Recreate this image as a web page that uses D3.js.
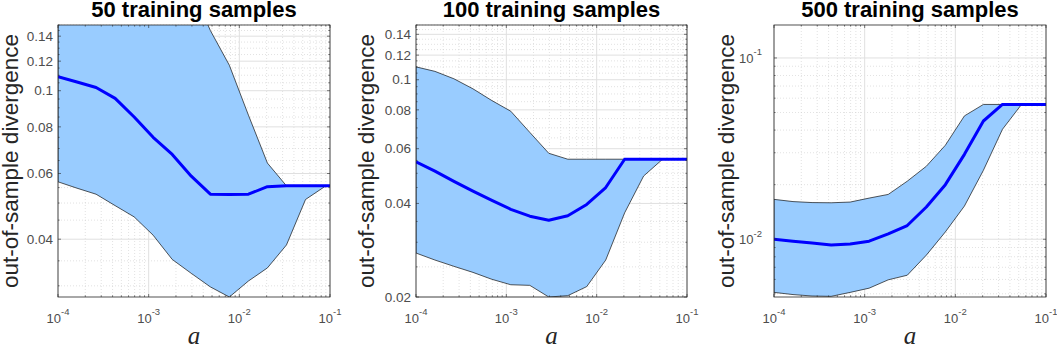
<!DOCTYPE html>
<html><head><meta charset="utf-8">
<script src="https://cdn.jsdelivr.net/npm/d3@7"></script>
<style>body{margin:0;background:#fff}svg{display:block}</style>
</head><body>
<svg id="chart" width="1057" height="349"></svg>
<script>
// ---- data ----
const aGrid = [1e-4, 1.62e-4, 2.63e-4, 4.27e-4, 6.92e-4, 1.12e-3, 1.82e-3, 2.95e-3, 4.79e-3, 7.76e-3, 1.26e-2, 2.04e-2, 3.31e-2, 5.37e-2, 8.71e-2, 1.41e-1];

const titles = ["50 training samples", "100 training samples", "500 training samples"];

const median50 = [0.109, 0.1055, 0.102, 0.0954, 0.085, 0.075, 0.0675, 0.059, 0.0528, 0.0527, 0.0528, 0.0553, 0.0556, 0.0556, 0.0556, 0.0556];
const upper50  = [0.32, 0.31, 0.30, 0.29, 0.27, 0.25, 0.22, 0.19, 0.145, 0.117, 0.086, 0.064, 0.0556, 0.0556, 0.0556, 0.0556];
const lower50  = [0.0570, 0.0548, 0.0528, 0.0492, 0.0459, 0.0410, 0.0353, 0.0324, 0.0298, 0.0280, 0.0309, 0.0335, 0.0386, 0.0511, 0.0553, 0.0557];

const median100 = [0.0544, 0.0508, 0.0471, 0.0438, 0.0409, 0.0383, 0.0364, 0.0353, 0.0365, 0.0397, 0.0450, 0.0555, 0.0555, 0.0555, 0.0555, 0.0555];
const upper100  = [0.110, 0.1064, 0.1007, 0.0935, 0.0857, 0.0792, 0.0677, 0.058, 0.0555, 0.0555, 0.0555, 0.0555, 0.0555, 0.0555, 0.0555, 0.0555];
const lower100  = [0.0277, 0.0263, 0.0251, 0.0240, 0.0228, 0.0219, 0.0218, 0.0200, 0.0202, 0.0216, 0.0263, 0.0373, 0.0490, 0.0555, 0.0555, 0.0555];

const median500 = [0.0100, 0.00976, 0.00953, 0.00930, 0.00942, 0.00975, 0.01069, 0.0119, 0.01505, 0.0200, 0.0294, 0.0449, 0.0554, 0.0554, 0.0554, 0.0554];
const upper500  = [0.01659, 0.01613, 0.01593, 0.01589, 0.01603, 0.01686, 0.01767, 0.0209, 0.02527, 0.0330, 0.0479, 0.0554, 0.0554, 0.0554, 0.0554, 0.0554];
const lower500  = [0.00509, 0.00495, 0.00486, 0.00484, 0.00509, 0.00537, 0.00597, 0.00633, 0.00817, 0.01097, 0.01524, 0.0240, 0.0404, 0.0554, 0.0554, 0.0554];

const xTicks = [1e-4, 1e-3, 1e-2, 1e-1];
const xTickExp = ["-4", "-3", "-2", "-1"];

const yTicks50 = [0.04, 0.06, 0.08, 0.1, 0.12, 0.14];
const yLabels50 = ["0.04", "0.06", "0.08", "0.1", "0.12", "0.14"];
const yTicks100 = [0.02, 0.04, 0.06, 0.08, 0.1, 0.12, 0.14];
const yLabels100 = ["0.02", "0.04", "0.06", "0.08", "0.1", "0.12", "0.14"];
const yTicks500 = [0.01, 0.1];
const yExp500 = ["-2", "-1"];

const yDomains = [[0.028, 0.15], [0.02, 0.15], [0.0048, 0.152]];

// ---- layout ----
const svg = d3.select("#chart");
const yTop = 25, yBot = 297;
const panels = [
  {x0: 58, x1: 330, med: median50, up: upper50, lo: lower50, yt: yTicks50, yl: yLabels50, ylabX: 18, minorStep: 0.005},
  {x0: 416, x1: 687, med: median100, up: upper100, lo: lower100, yt: yTicks100, yl: yLabels100, ylabX: 373.5, minorStep: 0.005},
  {x0: 774, x1: 1046, med: median500, up: upper500, lo: lower500, yt: yTicks500, ye: yExp500, ylabX: 733.5, minorStep: null}
];

const axisCol = "#262626", tickCol = "#4d4d4d";
const sans = "Liberation Sans, Arial, Helvetica, sans-serif";
const defs = svg.append("defs");

panels.forEach((p, i) => {
  const x = d3.scaleLog().domain([1e-4, 1e-1]).range([p.x0, p.x1]);
  const y = d3.scaleLog().domain(yDomains[i]).range([yBot, yTop]);
  const g = svg.append("g");

  const cid = "clip" + i;
  defs.append("clipPath").attr("id", cid).append("rect")
    .attr("x", p.x0).attr("y", yTop).attr("width", p.x1 - p.x0).attr("height", yBot - yTop);

  const xMinor = [];
  [1e-4, 1e-3, 1e-2].forEach(d => { for (let m = 2; m <= 9; m++) xMinor.push(d * m); });
  const yMinor = [];
  const [ya, yb] = yDomains[i];
  if (p.minorStep) {
    for (let v = 0.02; v <= yb + 1e-9; v += p.minorStep) {
      const vv = Math.round(v * 1000) / 1000;
      if (vv >= ya && vv <= yb && !p.yt.some(t => Math.abs(t - vv) < 1e-6)) yMinor.push(vv);
    }
  } else {
    [0.001, 0.01, 0.1].forEach(d => { for (let m = 2; m <= 9; m++) { const v = d * m; if (v >= ya && v <= yb) yMinor.push(v); } });
  }

  const grid = g.append("g");
  grid.selectAll(".gxm").data(xMinor).join("line")
    .attr("x1", d => x(d)).attr("x2", d => x(d)).attr("y1", yTop).attr("y2", yBot)
    .attr("stroke", "#cfcfcf").attr("stroke-width", 0.6).attr("stroke-dasharray", "1,2");
  grid.selectAll(".gym").data(yMinor).join("line")
    .attr("y1", d => y(d)).attr("y2", d => y(d)).attr("x1", p.x0).attr("x2", p.x1)
    .attr("stroke", "#cfcfcf").attr("stroke-width", 0.6).attr("stroke-dasharray", "1,2");
  grid.selectAll(".gx").data(xTicks).join("line")
    .attr("x1", d => x(d)).attr("x2", d => x(d)).attr("y1", yTop).attr("y2", yBot)
    .attr("stroke", "#e0e0e0").attr("stroke-width", 1);
  grid.selectAll(".gy").data(p.yt).join("line")
    .attr("y1", d => y(d)).attr("y2", d => y(d)).attr("x1", p.x0).attr("x2", p.x1)
    .attr("stroke", "#e0e0e0").attr("stroke-width", 1);

  const idx = d3.range(aGrid.length);
  const area = d3.area().x(k => x(aGrid[k])).y0(k => y(p.lo[k])).y1(k => y(p.up[k]));
  const data = g.append("g").attr("clip-path", `url(#${cid})`);
  data.append("path").datum(idx).attr("d", area)
    .attr("fill", "#99ccff").attr("stroke", "#111").attr("stroke-width", 0.7).attr("stroke-linejoin", "round");
  const line = d3.line().x(k => x(aGrid[k])).y(k => y(p.med[k]));
  data.append("path").datum(idx).attr("d", line)
    .attr("fill", "none").attr("stroke", "#0000ff").attr("stroke-width", 3).attr("stroke-linejoin", "round");

  const tk = g.append("g").attr("stroke", axisCol).attr("stroke-width", 0.6);
  xTicks.forEach(d => {
    tk.append("line").attr("x1", x(d)).attr("x2", x(d)).attr("y1", yBot).attr("y2", yBot - 3);
    tk.append("line").attr("x1", x(d)).attr("x2", x(d)).attr("y1", yTop).attr("y2", yTop + 3);
  });
  xMinor.forEach(d => {
    tk.append("line").attr("x1", x(d)).attr("x2", x(d)).attr("y1", yBot).attr("y2", yBot - 1.6);
    tk.append("line").attr("x1", x(d)).attr("x2", x(d)).attr("y1", yTop).attr("y2", yTop + 1.6);
  });
  p.yt.forEach(d => {
    tk.append("line").attr("y1", y(d)).attr("y2", y(d)).attr("x1", p.x0).attr("x2", p.x0 + 3);
    tk.append("line").attr("y1", y(d)).attr("y2", y(d)).attr("x1", p.x1).attr("x2", p.x1 - 3);
  });
  yMinor.forEach(d => {
    tk.append("line").attr("y1", y(d)).attr("y2", y(d)).attr("x1", p.x0).attr("x2", p.x0 + 1.6);
    tk.append("line").attr("y1", y(d)).attr("y2", y(d)).attr("x1", p.x1).attr("x2", p.x1 - 1.6);
  });

  g.append("rect").attr("x", p.x0).attr("y", yTop).attr("width", p.x1 - p.x0).attr("height", yBot - yTop)
    .attr("fill", "none").attr("stroke", axisCol).attr("stroke-width", 0.8);

  xTicks.forEach((d, j) => {
    const t = g.append("text").attr("x", x(d)).attr("y", 322.5).attr("text-anchor", "middle")
      .attr("font-family", sans).attr("font-size", 13).attr("fill", tickCol);
    t.append("tspan").text("10");
    t.append("tspan").attr("dy", -7.5).attr("font-size", 9.5).text(xTickExp[j]);
  });

  if (p.yl) {
    p.yt.forEach((d, j) => {
      g.append("text").attr("x", p.x0 - 5).attr("y", y(d)).attr("dy", "0.35em").attr("text-anchor", "end")
        .attr("font-family", sans).attr("font-size", 13.5).attr("fill", tickCol)
        .text(p.yl[j]);
    });
  } else {
    p.yt.forEach((d, j) => {
      const t = g.append("text").attr("x", p.x0 - 12).attr("y", y(d) + 5).attr("text-anchor", "end")
        .attr("font-family", sans).attr("font-size", 13).attr("fill", tickCol);
      t.append("tspan").text("10");
      t.append("tspan").attr("dy", -7.5).attr("font-size", 9.5).text(p.ye[j]);
    });
  }

  g.append("text").attr("x", (p.x0 + p.x1) / 2).attr("y", 16.5).attr("text-anchor", "middle")
    .attr("font-family", sans).attr("font-weight", "bold").attr("font-size", 22)
    .attr("fill", "#000").text(titles[i]);

  g.append("text").attr("transform", `translate(${p.ylabX},${(yTop + yBot) / 2}) rotate(-90)`)
    .attr("text-anchor", "middle")
    .attr("font-family", sans).attr("font-size", 22.5).attr("fill", "#262626")
    .text("out-of-sample divergence");

  g.append("text").attr("x", (p.x0 + p.x1) / 2).attr("y", 343.5).attr("text-anchor", "middle")
    .attr("font-family", "Liberation Serif, Times New Roman, serif").attr("font-style", "italic").attr("font-size", 25)
    .attr("fill", "#262626").text("a");
});
</script>
</body></html>
